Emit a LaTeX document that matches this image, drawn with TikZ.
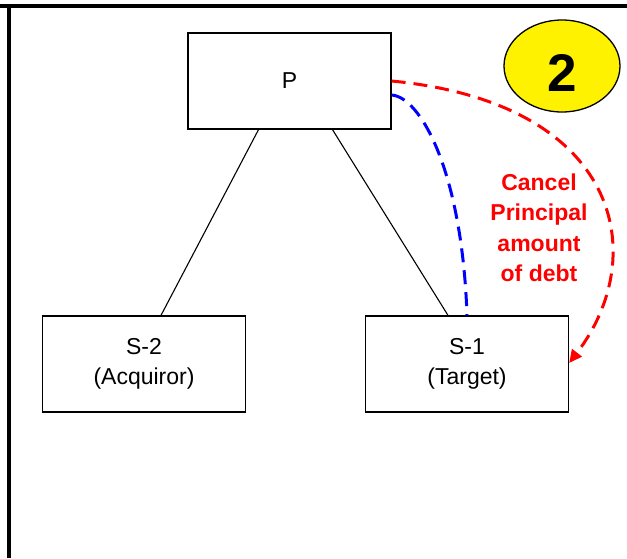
\documentclass[tikz,border=0pt]{standalone}
\usepackage{fontspec}
\setmainfont{Liberation Sans}
\usetikzlibrary{shapes.geometric,arrows.meta}
\begin{document}
\begin{tikzpicture}[x=1pt,y=-1pt,
    entity/.style={draw,line width=1.3pt,minimum width=203pt,minimum height=96pt,
      align=center,font=\fontsize{23}{30}\selectfont},
    badge/.style={ellipse,draw,line width=1.3pt,fill=yellow,minimum width=116pt,
      minimum height=92pt,inner sep=0pt,font=\fontsize{53}{53}\selectfont\bfseries,
      text height=51pt},
    note/.style={text=red,align=center,font=\fontsize{23}{30.5}\selectfont\bfseries},
    dashline/.style={line width=3pt,dash pattern=on 14pt off 8pt}]
  \useasboundingbox (0,0) rectangle (627,558);
  \draw[line width=4pt] (0,6) -- (627,6);
  \draw[line width=4pt] (8.5,4) -- (8.5,558);
  \draw
    (289.5,81) node[entity] (P){P}
    (144,364) node[entity] (S2){S-2\\(Acquiror)}
    (467,364) node[entity] (S1){S-1\\(Target)}
    (562,66) node[badge] (two){2}
    (539,228) node[note] (cancel){Cancel\\Principal\\amount\\of debt};
  \begin{scope}[-,line width=1.1pt]
    \draw ([xshift=-31pt]P.south) to ([xshift=17pt]S2.north);
    \draw ([xshift=43pt]P.south) to ([xshift=-19pt]S1.north);
  \end{scope}
  \draw[dashline,blue] ([yshift=-14pt]P.east) .. controls (420,97) and (462,170) .. (S1.north);
  \draw[dashline,red,-{Triangle[length=13pt,width=12pt]}] ([yshift=0pt]P.east) .. controls (620,103) and (652,255) .. ([yshift=1pt]S1.east);
\end{tikzpicture}
\end{document}
